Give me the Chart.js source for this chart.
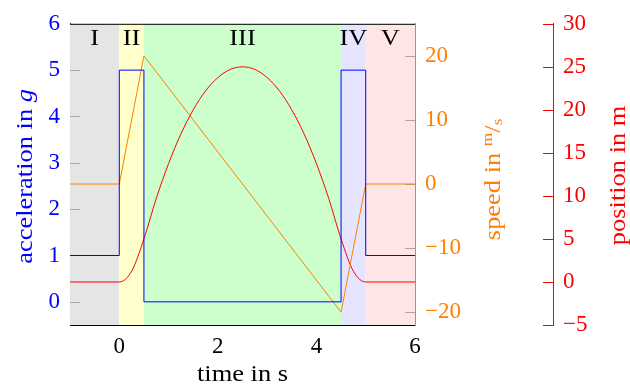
<!DOCTYPE html>
<html><head><meta charset="utf-8">
<script src="https://cdn.jsdelivr.net/npm/chart.js@4"></script>
<style>html,body{margin:0;padding:0;background:#fff}canvas{display:block}</style>
</head><body>
<canvas id="c" width="630" height="385" style="width:630px;height:385px"></canvas>
<script>
// ---- data ----
const phaseNames  = ['I', 'II', 'III', 'IV', 'V'];
const phaseStart  = [-1, 0, 0.5, 4.5, 5];
const phaseEnd    = [0, 0.5, 4.5, 5, 6];
const phaseColors = ['#e5e5e5', '#ffffcc', '#ccffcc', '#e5e5ff', '#ffe5e5'];

const accTime  = [-1, 0, 0.5, 4.5, 5, 6];
const accValue = [1, 5, 0, 5, 1, 1];

const speedTime  = [-1, 0, 0.5, 4.5, 5, 6];
const speedValue = [0, 0, 20, -20, 0, 0];

const posTime  = [-1, 0, 0.25, 0.5, 0.75, 1, 1.25, 1.5, 1.75, 2, 2.25, 2.5, 2.75, 3, 3.25, 3.5, 3.75, 4, 4.25, 4.5, 4.75, 5, 6];
const posValue = [0, 0, 1.25, 5, 9.7, 13.75, 17.2, 20, 22.2, 23.75, 24.7, 25, 24.7, 23.75, 22.2, 20, 17.2, 13.75, 9.7, 5, 1.25, 0, 0];

const timeTicks  = [0, 2, 4, 6];
const accTicks   = [0, 1, 2, 3, 4, 5, 6];
const speedTicks = [-20, -10, 0, 10, 20];
const posTicks   = [-5, 0, 5, 10, 15, 20, 25, 30];

// ---- styles ----
const FONT = "'Liberation Serif', 'Times New Roman', serif";
const FS = 23;
const STRETCH = 1.15;
const BLUE = '#0000ff', ORANGE = '#ff8000', RED = '#ff0000';
const TICKFONT = { family: FONT, size: FS };
const fmt = v => String(v).replace('-', '\u2212');
const setTicks = arr => s => { s.ticks = arr.map(v => ({ value: v })); };
const pts = (xs, ys) => xs.map((x, i) => ({ x, y: ys[i] }));

function drawParts(ctx, parts, x, y, angle, color) {
  ctx.save();
  ctx.translate(x, y);
  ctx.rotate(angle);
  ctx.scale(STRETCH, 1);
  ctx.fillStyle = color;
  ctx.textBaseline = 'alphabetic';
  ctx.textAlign = 'left';
  let total = 0;
  for (const p of parts) { ctx.font = p.font; p.w = ctx.measureText(p.text).width; total += p.w; }
  let cx = -total / 2;
  for (const p of parts) { ctx.font = p.font; ctx.fillText(p.text, cx, p.dy || 0); cx += p.w; }
  ctx.restore();
}

const decor = {
  id: 'decor',
  beforeDatasetsDraw(chart) {
    const { ctx, chartArea: a, scales } = chart;
    const x = scales.x;
    ctx.save();
    for (let i = 0; i < phaseNames.length; i++) {
      const x0 = x.getPixelForValue(phaseStart[i]);
      const x1 = x.getPixelForValue(phaseEnd[i]);
      ctx.fillStyle = phaseColors[i];
      ctx.fillRect(x0, a.top, x1 - x0, a.bottom - a.top);
    }
    ctx.strokeStyle = '#a8a8a8';
    ctx.lineWidth = 1;
    ctx.beginPath();
    for (const v of accTicks) {
      const y = Math.round(scales.yA.getPixelForValue(v)) + 0.5;
      if (y <= a.top + 1) continue;
      ctx.moveTo(a.left, y); ctx.lineTo(a.left + 10, y);
    }
    for (const v of speedTicks) {
      const y = Math.round(scales.yS.getPixelForValue(v)) + 0.5;
      ctx.moveTo(a.right - 10, y); ctx.lineTo(a.right, y);
    }
    ctx.stroke();
    for (let i = 0; i < phaseNames.length; i++) {
      const xc = (x.getPixelForValue(phaseStart[i]) + x.getPixelForValue(phaseEnd[i])) / 2;
      drawParts(ctx, [{ text: phaseNames[i], font: `${FS}px ${FONT}` }], xc, 45, 0, '#000');
    }
    ctx.restore();
  },
  afterDraw(chart) {
    const { ctx, chartArea: a, scales } = chart;
    ctx.save();
    ctx.strokeStyle = '#000';
    ctx.lineWidth = 1;
    ctx.beginPath();
    ctx.moveTo(a.left, a.top + 0.5); ctx.lineTo(a.right, a.top + 0.5);
    ctx.stroke();
    const p = scales.yP;
    ctx.strokeStyle = RED;
    ctx.beginPath();
    for (const v of posTicks) {
      const y = Math.round(p.getPixelForValue(v)) + 0.5;
      ctx.moveTo(p.left - 10, y); ctx.lineTo(p.left, y);
    }
    ctx.stroke();
    const f = `${FS}px ${FONT}`;
    const fi = `italic ${FS}px ${FONT}`;
    const fs = `${Math.round(FS * 0.65)}px ${FONT}`;
    const cy = (a.top + a.bottom) / 2;
    drawParts(ctx, [{ text: 'acceleration in ', font: f }, { text: 'g', font: fi }], 32, cy + 2, -Math.PI / 2, BLUE);
    drawParts(ctx, [{ text: 'speed in ', font: f }, { text: 'm', font: fs, dy: -8 }, { text: '/', font: f }, { text: 's', font: fs, dy: 2 }], 500, cy + 5, -Math.PI / 2, ORANGE);
    drawParts(ctx, [{ text: 'position in m', font: f }], 625, cy + 1, -Math.PI / 2, RED);
    drawParts(ctx, [{ text: 'time in s', font: f }], (a.left + a.right) / 2, 381, 0, '#000');
    ctx.restore();
  }
};

Chart.defaults.font.family = FONT;
Chart.defaults.font.size = FS;

new Chart(document.getElementById('c'), {
  type: 'line',
  data: {
    datasets: [
      { label: 'acceleration', data: pts(accTime, accValue), yAxisID: 'yA', stepped: 'before', borderColor: BLUE, borderWidth: 1, pointRadius: 0, fill: false },
      { label: 'speed', data: pts(speedTime, speedValue), yAxisID: 'yS', borderColor: ORANGE, borderWidth: 1, pointRadius: 0, fill: false },
      { label: 'position', data: pts(posTime, posValue), yAxisID: 'yP', borderColor: RED, borderWidth: 1, pointRadius: 0, fill: false, cubicInterpolationMode: 'monotone' }
    ]
  },
  options: {
    responsive: false,
    maintainAspectRatio: false,
    animation: false,
    devicePixelRatio: 1,
    layout: { padding: { top: 21, left: 0, right: 0, bottom: 0 } },
    plugins: { legend: { display: false }, tooltip: { enabled: false } },
    scales: {
      x: {
        type: 'linear', position: 'bottom', min: -1, max: 6,
        afterBuildTicks: setTicks(timeTicks),
        afterFit: s => { s.height = 60; },
        grid: { display: false, drawTicks: false },
        border: { display: true, color: '#000', width: 1 },
        ticks: { color: '#000', padding: 8, maxRotation: 0, font: TICKFONT, callback: fmt }
      },
      yA: {
        type: 'linear', position: 'left', min: -0.5, max: 6,
        afterBuildTicks: setTicks(accTicks),
        afterFit: s => { s.width = 70; },
        grid: { display: false, drawTicks: false },
        border: { display: true, color: BLUE, width: 1 },
        ticks: { color: BLUE, padding: 10, font: TICKFONT, callback: fmt }
      },
      yS: {
        type: 'linear', position: 'right', min: -22, max: 25, weight: 0,
        afterBuildTicks: setTicks(speedTicks),
        afterFit: s => { s.width = 138; },
        grid: { display: false, drawTicks: false },
        border: { display: true, color: ORANGE, width: 1 },
        ticks: { color: ORANGE, padding: 10, font: TICKFONT, callback: fmt }
      },
      yP: {
        type: 'linear', position: 'right', min: -5, max: 30, weight: 1,
        afterBuildTicks: setTicks(posTicks),
        afterFit: s => { s.width = 77; },
        grid: { display: false, drawTicks: false },
        border: { display: true, color: RED, width: 1 },
        ticks: { color: RED, padding: 10, font: TICKFONT, callback: fmt }
      }
    }
  },
  plugins: [decor]
});
</script>
</body></html>
